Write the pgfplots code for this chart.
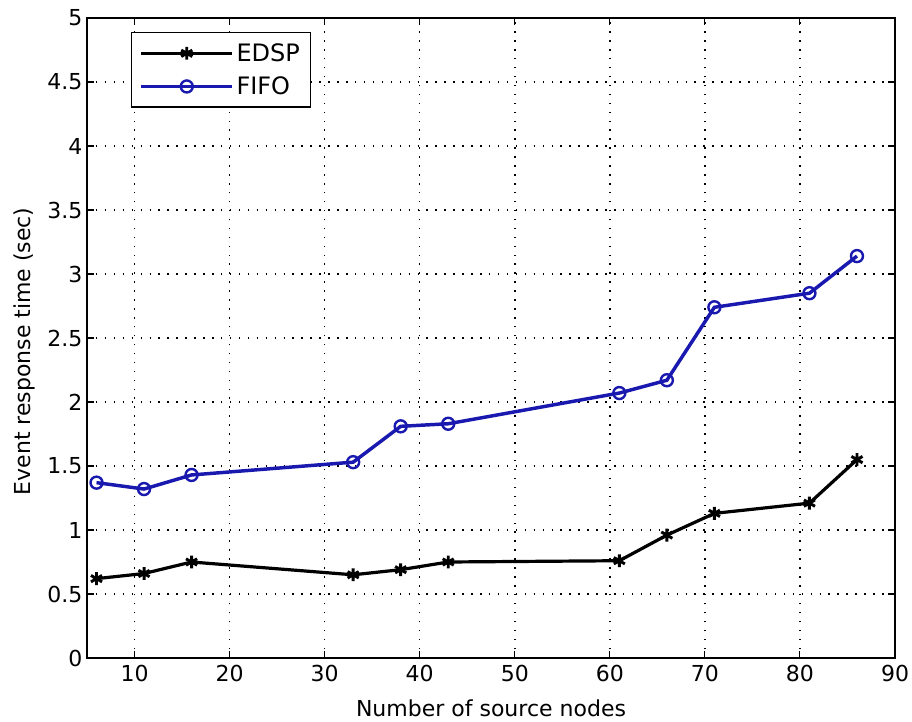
\documentclass[border=0pt]{standalone}
\usepackage{pgfplots}
\pgfplotsset{compat=1.18}
\usepackage{fontspec}
\setmainfont{DejaVu Sans}
\definecolor{fifoblue}{RGB}{25,25,175}
\begin{document}
\begin{tikzpicture}[x=1pt,y=1pt]
\useasboundingbox (-65.25,-47.25) rectangle (618.75,493.5);
\begin{axis}[
  at={(0,0)}, anchor=south west,
  scale only axis,
  width=606pt, height=480pt,
  xmin=5, xmax=90, ymin=0, ymax=5,
  xtick={10,20,...,90},
  ytick={0,0.5,...,5},
  yticklabels={0,0.5,1,1.5,2,2.5,3,3.5,4,4.5,5},
  tick align=inside,
  tick pos=both,
  major tick length=5pt,
  grid=major,
  major grid style={black, line width=1.1pt, dash pattern=on 1.1pt off 5.6pt},
  axis line style={black, line width=1pt},
  every tick/.style={black, line width=0.8pt},
  ticklabel style={font=\fontsize{16.5}{19}\selectfont},
  xticklabel style={yshift=-2pt},
  /pgf/number format/assume math mode=true,
  xlabel={Number of source nodes},
  ylabel={Event response time (sec)},
  label style={font=\fontsize{16.5}{19}\selectfont},
  xlabel style={at={(axis description cs:0.5,0)}, anchor=base, yshift=-44pt},
  ylabel style={at={(axis description cs:-0.078,0.479)}, anchor=center, rotate=0},
  legend style={at={(axis description cs:0.0545,0.978)}, anchor=north west, draw=black, line width=1pt,
    font=\fontsize{18}{20}\selectfont, row sep=6pt, inner xsep=6pt, inner ysep=6pt},
  legend cell align=left,
  legend image code/.code={\draw[mark repeat=2,mark phase=2] plot coordinates {(0pt,0pt) (34pt,0pt) (68pt,0pt)};},
]
\addplot[black, line width=2.4pt, mark=asterisk, mark size=4.8pt, mark options={line width=2.2pt}]
  coordinates {(6,0.62) (11,0.66) (16,0.75) (33,0.65) (38,0.69) (43,0.75) (61,0.76) (66,0.96) (71,1.13) (81,1.21) (86,1.55)};
\addlegendentry{EDSP}
\addplot[fifoblue, line width=2.6pt, mark=o, mark size=4.5pt, mark options={line width=1.8pt}]
  coordinates {(6,1.37) (11,1.32) (16,1.43) (33,1.53) (38,1.81) (43,1.83) (61,2.07) (66,2.17) (71,2.74) (81,2.85) (86,3.14)};
\addlegendentry{FIFO}
\end{axis}
\end{tikzpicture}
\end{document}
